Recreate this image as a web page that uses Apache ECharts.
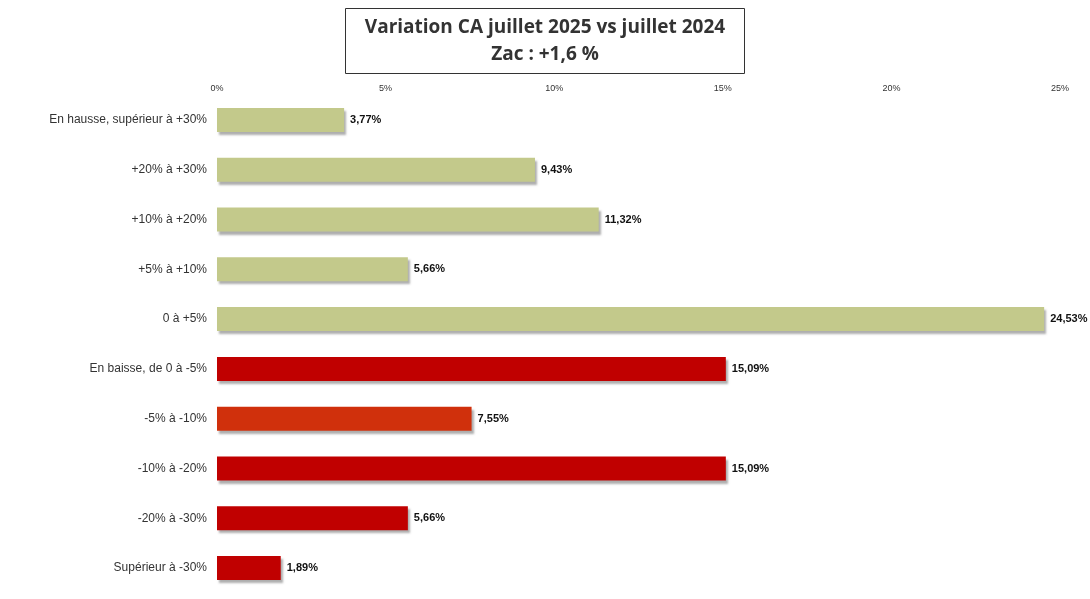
<!DOCTYPE html>
<html>
<head>
<meta charset="utf-8">
<script src="https://cdn.jsdelivr.net/npm/echarts@6/dist/echarts.min.js"></script>
<style>html,body{margin:0;padding:0;background:#fff}#main{width:1090px;height:599px}</style>
</head>
<body>
<div id="main"></div>
<script>
var categories = ["En hausse, supérieur à +30%", "+20% à +30%", "+10% à +20%", "+5% à +10%", "0 à +5%",
	"En baisse, de 0 à -5%", "-5% à -10%", "-10% à -20%", "-20% à -30%", "Supérieur à -30%"];
var values = [3.77, 9.43, 11.32, 5.66, 24.53, 15.09, 7.55, 15.09, 5.66, 1.89];
var colors = ["#c3c98b", "#c3c98b", "#c3c98b", "#c3c98b", "#c3c98b",
	"#c00000", "#d0300c", "#c00000", "#c00000", "#c00000"];
var ticks = [0, 5, 10, 15, 20, 25];

var myChart = echarts.init(document.getElementById("main"));

var data = [];
for (var i = 0; i < values.length; i++) {
	data.push({ value : values[i], itemStyle : { color : colors[i] } });
}

var option = {
	animation : false,
	title : {
		text : "Variation CA juillet 2025 vs juillet 2024\nZac : +1,6 %",
		left : "center",
		top : 8,
		borderColor : "#333",
		borderWidth : 1,
		padding : [6, 20, 6, 20],
		textStyle : {
			fontFamily : "Open Sans",
			fontSize : 19,
			fontWeight : "bold",
			color : "#333",
			lineHeight : 27,
			align : "center"
		}
	},
	grid : { left : 217, right : 30, top : 95, bottom : 6 },
	xAxis : {
		type : "value",
		position : "top",
		min : 0,
		max : 25,
		interval : 5,
		splitLine : { show : false },
		axisLine : { show : false },
		axisTick : { show : false },
		axisLabel : {
			fontSize : 9, color : "#333", margin : 2,
			formatter : function(v) { return ticks.indexOf(v) >= 0 ? v + "%" : ""; }
		}
	},
	yAxis : {
		type : "category",
		inverse : true,
		data : categories,
		axisLine : { show : false },
		axisTick : { show : false },
		axisLabel : { fontSize : 12, color : "#333", margin : 10, fontFamily : "Liberation Sans" }
	},
	series : [ {
		type : "bar",
		data : data,
		barWidth : 24,
		itemStyle : {
			shadowColor : "rgba(120,120,120,0.6)",
			shadowOffsetX : 2,
			shadowOffsetY : 3,
			shadowBlur : 2
		},
		label : {
			show : true,
			position : "right",
			distance : 6,
			fontSize : 11,
			fontWeight : "bold",
			color : "#111",
			formatter : function(p) { return p.value.toFixed(2).replace(".", ",") + "%"; }
		}
	} ]
};
myChart.setOption(option);
</script>
</body>
</html>
